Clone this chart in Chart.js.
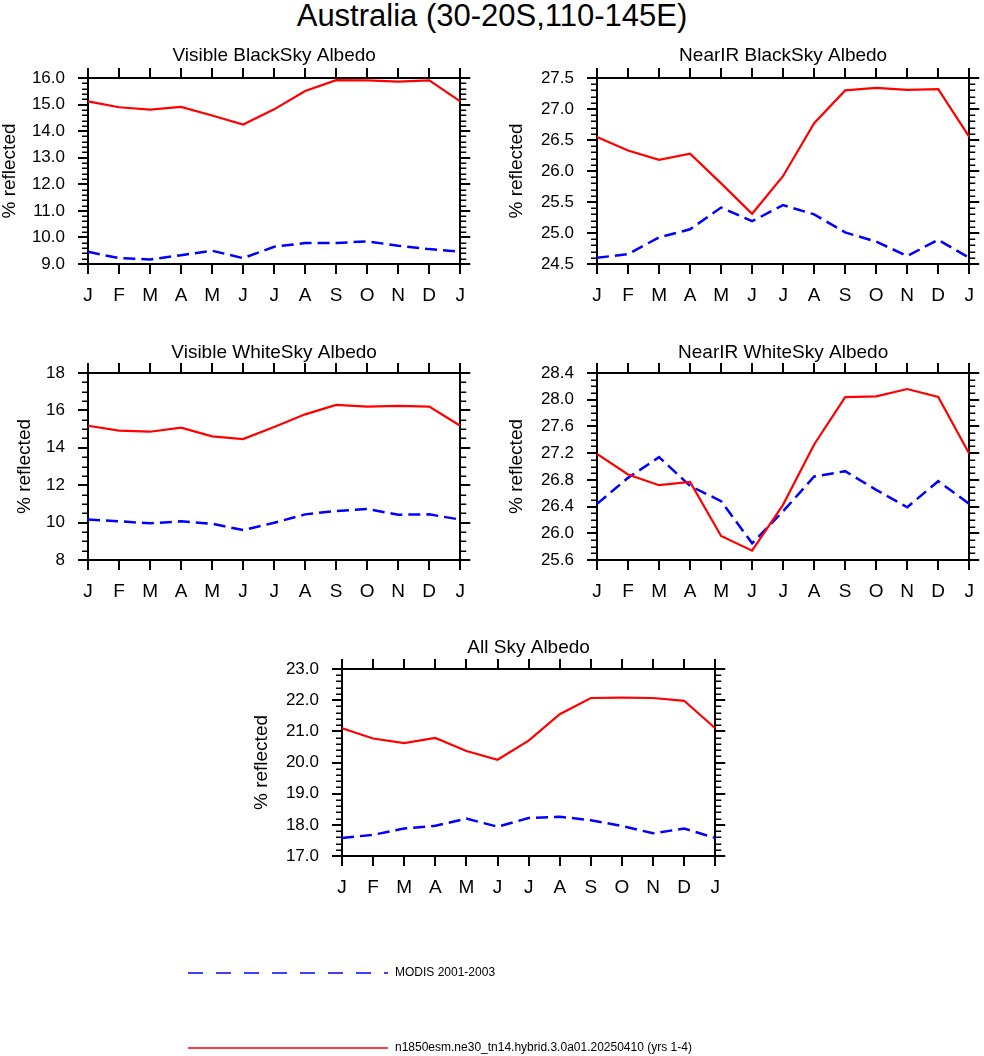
<!DOCTYPE html>
<html>
<head>
<meta charset="utf-8">
<title>Australia albedo</title>
<script src="https://cdn.jsdelivr.net/npm/chart.js@4/dist/chart.umd.min.js"></script>
<style>
  html, body { margin: 0; padding: 0; background: #fff; }
  body { width: 984px; height: 1056px; position: relative; overflow: hidden;
         font-family: 'Liberation Sans', Arial, Helvetica, sans-serif; }
  .panel { position: absolute; }
  #title { position: absolute; left: 0; top: -1px; width: 984px; text-align: center;
           font-size: 31px; line-height: 34px; color: #000; }
</style>
</head>
<body>
<div id="title">Australia (30-20S,110-145E)</div>
<div id="panels"></div>
<script>
// ---- data ----
const months = ['J', 'F', 'M', 'A', 'M', 'J', 'J', 'A', 'S', 'O', 'N', 'D', 'J'];
const modelName = 'n1850esm.ne30_tn14.hybrid.3.0a01.20250410 (yrs 1-4)';
const modisName = 'MODIS 2001-2003';

const visBlackModel = [15.12, 14.90, 14.81, 14.91, 14.59, 14.25, 14.82, 15.51, 15.92, 15.91, 15.86, 15.91, 15.12];
const visBlackModis = [9.46, 9.22, 9.17, 9.33, 9.50, 9.22, 9.65, 9.79, 9.79, 9.85, 9.69, 9.56, 9.46];
const visBlackTicks = [9, 10, 11, 12, 13, 14, 15, 16];

const nirBlackModel = [26.55, 26.33, 26.18, 26.28, 25.80, 25.31, 25.92, 26.77, 27.30, 27.34, 27.31, 27.32, 26.55];
const nirBlackModis = [24.60, 24.66, 24.93, 25.06, 25.41, 25.19, 25.45, 25.30, 25.01, 24.86, 24.63, 24.89, 24.60];
const nirBlackTicks = [24.5, 25.0, 25.5, 26.0, 26.5, 27.0, 27.5];

const visWhiteModel = [15.18, 14.92, 14.86, 15.08, 14.61, 14.47, 15.11, 15.79, 16.29, 16.20, 16.24, 16.20, 15.18];
const visWhiteModis = [10.16, 10.07, 9.96, 10.07, 9.94, 9.60, 9.99, 10.44, 10.62, 10.73, 10.42, 10.44, 10.16];
const visWhiteTicks = [8, 10, 12, 14, 16, 18];

const nirWhiteModel = [27.19, 26.88, 26.72, 26.77, 25.96, 25.74, 26.43, 27.33, 28.04, 28.05, 28.16, 28.04, 27.19];
const nirWhiteModis = [26.44, 26.83, 27.14, 26.71, 26.48, 25.85, 26.33, 26.85, 26.93, 26.65, 26.39, 26.78, 26.44];
const nirWhiteTicks = [25.6, 26.0, 26.4, 26.8, 27.2, 27.6, 28.0, 28.4];

const allSkyModel = [21.10, 20.77, 20.62, 20.79, 20.37, 20.09, 20.70, 21.55, 22.07, 22.08, 22.07, 21.98, 21.10];
const allSkyModis = [17.58, 17.68, 17.88, 17.97, 18.20, 17.94, 18.22, 18.26, 18.15, 17.96, 17.73, 17.88, 17.58];
const allSkyTicks = [17, 18, 19, 20, 21, 22, 23];

// ---- panel layout ----
const FONT = "'Liberation Sans', Arial, Helvetica, sans-serif";
Chart.defaults.font.family = FONT;
Chart.defaults.color = '#000';

const panels = [
  {id: 'p1', title: 'Visible BlackSky Albedo', model: visBlackModel, modis: visBlackModis, ticks: visBlackTicks,
   dec: 1, minor: 0.2, cx: 0, cy: 44, L: 88, R: 463, T: 78, B: 264, titlePad: 0},
  {id: 'p2', title: 'NearIR BlackSky Albedo', model: nirBlackModel, modis: nirBlackModis, ticks: nirBlackTicks,
   dec: 1, minor: 0.1, cx: 507, cy: 44, L: 597, R: 972, T: 78, B: 264, titlePad: 0},
  {id: 'p3', title: 'Visible WhiteSky Albedo', model: visWhiteModel, modis: visWhiteModis, ticks: visWhiteTicks,
   dec: 0, minor: 0.5, cx: 15, cy: 341, L: 88, R: 463, T: 373, B: 560, titlePad: 0},
  {id: 'p4', title: 'NearIR WhiteSky Albedo', model: nirWhiteModel, modis: nirWhiteModis, ticks: nirWhiteTicks,
   dec: 1, minor: 0.1, cx: 507, cy: 341, L: 597, R: 972, T: 373, B: 560, titlePad: 0},
  {id: 'p5', title: 'All Sky Albedo', model: allSkyModel, modis: allSkyModis, ticks: allSkyTicks,
   dec: 1, minor: 0.2, cx: 180, cy: 636, L: 342, R: 718, T: 669, B: 856, titlePad: 72, extraBottom: 150, legend: true},
];

const RIGHT_W = 12;
const BOTTOM_H = 50;
const TITLE_H = 24;

// small outward ticks between the labelled ones, on both y sides
const minorTicks = {
  id: 'minorTicks',
  afterDraw(chart, args, opts) {
    const {ctx, chartArea} = chart;
    const y = chart.scales.y;
    const n = Math.round((y.max - y.min) / opts.step);
    ctx.save();
    ctx.strokeStyle = '#000';
    ctx.lineWidth = 1.5;
    ctx.beginPath();
    for (let k = 1; k < n; k++) {
      const py = Math.round(y.getPixelForValue(y.min + k * opts.step)) + 0.25;
      ctx.moveTo(chartArea.left - 6, py);
      ctx.lineTo(chartArea.left, py);
      ctx.moveTo(chartArea.right, py);
      ctx.lineTo(chartArea.right + 6, py);
    }
    ctx.stroke();
    ctx.restore();
  }
};

// line legend under the last panel, styled from the datasets
const lineLegend = {
  id: 'lineLegend',
  afterDraw(chart, args, opts) {
    if (!opts.show) return;
    const {ctx} = chart;
    ctx.save();
    opts.order.forEach((di, row) => {
      const ds = chart.data.datasets[di];
      const y = opts.rows[row];
      ctx.beginPath();
      ctx.strokeStyle = ds.borderColor;
      ctx.lineWidth = 1.5;
      ctx.setLineDash(ds.borderDash && ds.borderDash.length ? opts.dash : []);
      ctx.moveTo(opts.x, y);
      ctx.lineTo(opts.x + opts.width, y);
      ctx.stroke();
      ctx.setLineDash([]);
      ctx.fillStyle = '#000';
      ctx.font = '12px ' + FONT;
      ctx.textBaseline = 'middle';
      ctx.textAlign = 'left';
      ctx.fillText(ds.label, opts.x + opts.width + 7, y);
    });
    ctx.restore();
  }
};

const gridStyle = {
  display: true, drawOnChartArea: false, drawTicks: true, tickLength: 10,
  color: '#000', lineWidth: 2, tickColor: '#000', tickWidth: 2,
};
const borderStyle = {display: true, color: '#000', width: 2};

const holder = document.getElementById('panels');

panels.forEach((p) => {
  const extra = p.extraBottom || 0;
  const w = p.R + RIGHT_W - p.cx;
  const h = p.B + BOTTOM_H + extra - p.cy;
  const div = document.createElement('div');
  div.className = 'panel';
  div.style.left = p.cx + 'px';
  div.style.top = p.cy + 'px';
  div.style.width = w + 'px';
  div.style.height = h + 'px';
  const canvas = document.createElement('canvas');
  div.appendChild(canvas);
  holder.appendChild(div);

  const yMin = p.ticks[0];
  const yMax = p.ticks[p.ticks.length - 1];
  const setTicks = (s) => { s.ticks = p.ticks.map((v) => ({value: v})); };

  new Chart(canvas, {
    type: 'line',
    data: {
      labels: months,
      datasets: [
        {label: modelName, data: p.model, borderColor: '#ff0000', borderWidth: 2.2,
         pointRadius: 0, fill: false, tension: 0},
        {label: modisName, data: p.modis, borderColor: '#0000ff', borderWidth: 2.5,
         borderDash: [12, 6], pointRadius: 0, fill: false, tension: 0},
      ],
    },
    options: {
      responsive: true,
      maintainAspectRatio: false,
      animation: false,
      layout: {padding: {left: 0, right: 0, top: 0, bottom: extra}},
      scales: {
        x: {
          type: 'category', position: 'bottom', offset: false,
          grid: gridStyle, border: borderStyle,
          ticks: {color: '#000', font: {size: 19}, padding: 10, maxRotation: 0, autoSkip: false},
          afterFit: (s) => { s.height = BOTTOM_H; },
        },
        x2: {
          type: 'category', position: 'top', offset: false, min: 0, max: months.length - 1,
          grid: gridStyle, border: borderStyle,
          ticks: {display: false},
          afterFit: (s) => { s.height = p.T - p.cy - TITLE_H; },
        },
        y: {
          type: 'linear', position: 'left', min: yMin, max: yMax,
          grid: gridStyle, border: borderStyle,
          afterBuildTicks: setTicks,
          ticks: {color: '#000', font: {size: 17}, padding: 13,
                  callback: (v) => Number(v).toFixed(p.dec)},
          title: {display: true, text: '% reflected', color: '#000',
                  font: {size: 19, lineHeight: '20px'}, padding: {top: p.titlePad, bottom: 0}},
          afterFit: (s) => { s.width = p.L - p.cx; },
        },
        y2: {
          type: 'linear', position: 'right', min: yMin, max: yMax,
          grid: gridStyle, border: borderStyle,
          afterBuildTicks: setTicks,
          ticks: {display: false},
          afterFit: (s) => { s.width = RIGHT_W; },
        },
      },
      plugins: {
        legend: {display: false},
        tooltip: {enabled: false},
        title: {display: true, text: p.title, color: '#000', fullSize: false,
                font: {size: 19, weight: 'normal', lineHeight: '24px'}, padding: 0},
        minorTicks: {step: p.minor},
        lineLegend: {show: !!p.legend, order: [1, 0], x: 8, width: 200,
                     rows: [337, 412], dash: [15, 13]},
      },
    },
    plugins: [minorTicks, lineLegend],
  });
});
</script>
</body>
</html>
